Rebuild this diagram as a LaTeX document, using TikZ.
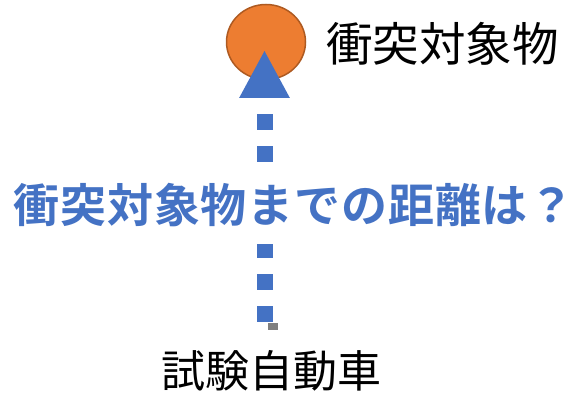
\documentclass[tikz,border=0pt]{standalone}
\usepackage{fontspec}
\newfontfamily\cjk{Noto Sans CJK JP}
\newfontfamily\cjkbold[LetterSpace=1.8]{Noto Sans CJK JP Bold}
\usetikzlibrary{arrows.meta,shapes.geometric}
\definecolor{objorange}{HTML}{ED7D31}
\definecolor{objedge}{HTML}{AE5A21}
\definecolor{accblue}{HTML}{4472C4}
\definecolor{handlegray}{HTML}{7F7F7F}
\tikzset{
  obj/.style={ellipse, draw=objedge, line width=1.5pt, fill=objorange, minimum width=79pt, minimum height=75pt, inner sep=0pt},
  blacklabel/.style={font=\cjk\fontsize{46.5}{46.5}\selectfont, text=black, inner sep=0pt},
  carlabel/.style={font=\cjk\fontsize{44}{44}\selectfont, text=black, inner sep=0pt},
  question/.style={font=\cjkbold\fontsize{46}{46}\selectfont, text=accblue, fill=white, inner sep=0pt, minimum height=78pt},
  distline/.style={draw=accblue, line width=16pt, line cap=butt, dash pattern=on 16pt off 16pt,
    -{Triangle[length=48pt 0 0, width=47pt 0 0, fill=accblue]}},
}
\begin{document}
\begin{tikzpicture}[x=1pt,y=-1pt]
\useasboundingbox (0,0) rectangle (576,395);
\node[obj] (target) at (266,42) {};
\node[blacklabel] (targetlabel) at (442.5,44) {衝突対象物};
\coordinate (start) at (264.5,322);
\coordinate (apex) at (264.5,50);
\draw[distline] (start) -- (apex);
\node[fill=handlegray, minimum width=10pt, minimum height=7pt, inner sep=0pt] (handle) at (273,326.5) {};
\node[question, anchor=west] (q) at (13.5,205) {衝突対象物までの距離は？};
\node[carlabel] (car) at (271.5,371) {試験自動車};
\end{tikzpicture}
\end{document}
